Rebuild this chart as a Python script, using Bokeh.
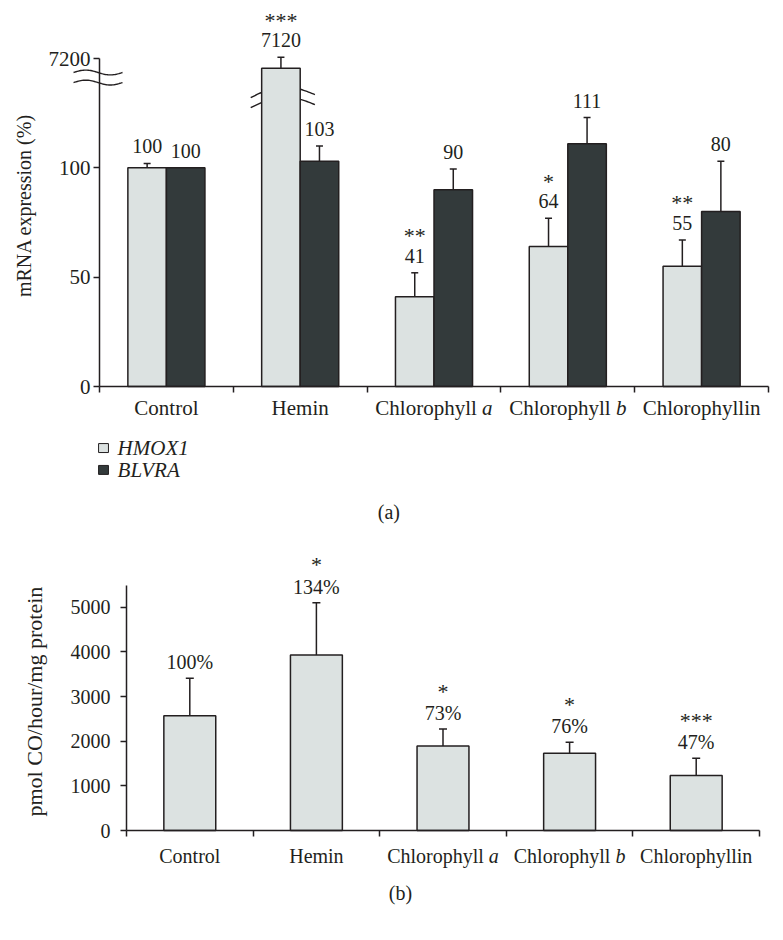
import math
from bokeh.plotting import figure
from bokeh.models import (Range1d, FixedTicker, Label, Whisker, TeeHead,
                          ColumnDataSource)
from bokeh.layouts import column
from bokeh.embed import file_html
from bokeh.resources import INLINE

# ---------------- data ----------------
cat_main = ["Control", "Hemin", "Chlorophyll", "Chlorophyll", "Chlorophyllin"]
cat_italic = ["", "", "a", "b", ""]

hmox1 = [100, 7120, 41, 64, 55]
hmox1_err = [2, 90, 11, 13, 12]
hmox1_stars = ["", "***", "**", "*", "**"]
blvra = [100, 103, 90, 111, 80]
blvra_err = [0, 7, 9.5, 12, 23]
a_tick_values = [0, 50, 100, 7200]

ho_activity = [2570, 3930, 1890, 1730, 1230]
ho_err = [840, 1170, 380, 245, 390]
ho_pct = ["100%", "134%", "73%", "76%", "47%"]
ho_stars = ["", "*", "*", "*", "***"]
b_tick_values = [0, 1000, 2000, 3000, 4000, 5000]

# ---------------- style ----------------
FONT = "Liberation Serif"
INK = "#231f20"
LIGHT = "#dce2e1"
DARK = "#333a3b"


def disp_a(v):
    """Broken axis: linear up to the break, compressed segment up to 7200."""
    if v <= 1000:
        return v
    return 150 - (7200 - v) / 17.8


def span_range(p0, p1, v0, v1, total, flip=False):
    """Range so that value v0 sits at pixel p0 and v1 at pixel p1 of a canvas of size total."""
    if not flip:
        s = (p1 - p0) / (v1 - v0)
        return Range1d(v0 - p0 / s, v0 + (total - p0) / s)
    s = (p0 - p1) / (v1 - v0)          # pixels measured from top
    return Range1d(v0 - (total - p0) / s, v1 + p1 / s)


def style_axes(p, n, ybounds, yticks, overrides, ytick_font, standoff):
    p.xaxis.fixed_location = 0
    p.yaxis.fixed_location = 0
    p.xaxis.bounds = (0, n)
    p.yaxis.bounds = ybounds
    p.xaxis.ticker = FixedTicker(ticks=[], minor_ticks=list(range(n + 1)))
    p.xaxis.major_label_text_font_size = "0px"
    p.xaxis.minor_tick_out = 6
    p.xaxis.minor_tick_in = 0
    p.xaxis.major_tick_out = 0
    p.xaxis.major_tick_in = 0
    p.yaxis.ticker = FixedTicker(ticks=yticks, minor_ticks=[])
    p.yaxis.major_label_overrides = overrides
    p.yaxis.major_tick_out = 6
    p.yaxis.major_tick_in = 0
    p.yaxis.minor_tick_out = 0
    p.yaxis.minor_tick_in = 0
    p.yaxis.major_label_standoff = standoff
    for ax in (p.xaxis, p.yaxis):
        ax.axis_line_color = INK
        ax.axis_line_width = 1.5
        ax.major_tick_line_color = INK
        ax.major_tick_line_width = 1.5
        ax.minor_tick_line_color = INK
        ax.minor_tick_line_width = 1.5
    p.yaxis.major_label_text_font = FONT
    p.yaxis.major_label_text_font_size = ytick_font
    p.yaxis.major_label_text_color = INK
    p.xgrid.visible = False
    p.ygrid.visible = False
    p.outline_line_color = None


def label(p, x, y, text, size, y_off=0, x_off=0, align="center", style="normal", angle=0):
    p.add_layout(Label(x=x, y=y, x_offset=x_off, y_offset=y_off, text=text,
                       text_align=align, text_baseline="middle", angle=angle,
                       text_font=FONT, text_font_size=size, text_font_style=style,
                       text_color=INK))


def add_cat_labels(p, centers, y, y_off, size):
    fs = float(size.replace("px", ""))
    for cx, main, it in zip(centers, cat_main, cat_italic):
        if it:
            # "Chlorophyll " + italic letter, centred as a whole
            label(p, cx, y, main, size, y_off=y_off, x_off=2.04 * fs, align="right")
            label(p, cx, y, it, size, y_off=y_off, x_off=2.29 * fs, align="left",
                  style="italic")
        else:
            label(p, cx, y, main, size, y_off=y_off)


n = len(cat_main)
centers = [i + 0.5 for i in range(n)]

# ================= panel (a) =================
WA, HA = 783, 533
pa = figure(width=WA, height=HA,
            x_range=span_range(99, 768, 0, n, WA),
            y_range=span_range(386, 58, 0, 150, HA, flip=True),
            output_backend="svg", toolbar_location=None, min_border=0)
a_tick_disp = [disp_a(v) for v in a_tick_values]
style_axes(pa, n, (0, disp_a(a_tick_values[-1])), a_tick_disp,
           {t: str(v) for t, v in zip(a_tick_disp, a_tick_values)}, "21px", 3)

bw_a = 0.288
x_h = [c - bw_a / 2 for c in centers]
x_b = [c + bw_a / 2 for c in centers]
top_h = [disp_a(v) for v in hmox1]
top_b = [disp_a(v) for v in blvra]

# break marks beside the Hemin HMOX1 bar (drawn under the bar)
hi = hmox1.index(max(hmox1))
for dy in (9.2, 13.8):
    xs = [centers[hi] - 0.37 + 0.48 * k / 40 for k in range(41)]
    ys = [top_h[hi] - dy - 4.2 + 4.2 * math.sin(math.pi * k / 40) + 1.4 * (k / 40)
          for k in range(41)]
    pa.line(xs, ys, line_color=INK, line_width=1.4)

pa.vbar(x=x_h, top=top_h, bottom=0, width=bw_a, fill_color=LIGHT,
        line_color=INK, line_width=1.5)
pa.vbar(x=x_b, top=top_b, bottom=0, width=bw_a, fill_color=DARK,
        line_color=INK, line_width=1.5)

src_h = ColumnDataSource(dict(x=x_h, lo=top_h,
                              hi=[disp_a(v + e) for v, e in zip(hmox1, hmox1_err)]))
src_b = ColumnDataSource(dict(x=x_b, lo=top_b,
                              hi=[disp_a(v + e) for v, e in zip(blvra, blvra_err)]))
for src in (src_h, src_b):
    pa.add_layout(Whisker(base="x", lower="lo", upper="hi", source=src,
                          line_color=INK, line_width=1.5, lower_head=None,
                          upper_head=TeeHead(size=7, line_color=INK, line_width=1.5)))

for x, v, e, s in zip(x_h, hmox1, hmox1_err, hmox1_stars):
    y = disp_a(v + e)
    label(pa, x, y, str(v), "20px", y_off=17)
    if s:
        label(pa, x, y, s, "22px", y_off=37)
for x, v, e in zip(x_b, blvra, blvra_err):
    label(pa, x, disp_a(v + e), str(v), "20px", y_off=17)

# break marks across the y axis
for yc in (143.6, 139.0):
    xs = [-0.194 + 0.366 * k / 40 for k in range(41)]
    ys = [yc + 1.1 * math.sin(2 * math.pi * k / 40) for k in range(41)]
    pa.line(xs, ys, line_color=INK, line_width=1.4)

add_cat_labels(pa, centers, 0, -21, "21px")

label(pa, -0.561, 82.8, "mRNA expression (%)", "20px", angle=math.pi / 2)

# legend
leg_names = ["HMOX1", "BLVRA"]
leg_cols = [LIGHT, DARK]
leg_y = [-28.15, -38.15]
pa.rect(x=[0.03] * 2, y=leg_y, width=0.074, height=4.1, fill_color=leg_cols,
        line_color=INK, line_width=1)
for yy, name in zip(leg_y, leg_names):
    label(pa, 0.135, yy, name, "21px", align="left", style="italic")

label(pa, 2.163, -57.2, "(a)", "20px")

# ================= panel (b) =================
WB, HB = 783, 407
pb = figure(width=WB, height=HB,
            x_range=span_range(126, 759, 0, n, WB),
            y_range=span_range(297, 73.7, 0, 5000, HB, flip=True),
            output_backend="svg", toolbar_location=None, min_border=0)
style_axes(pb, n, (0, 5481), b_tick_values,
           {v: str(v) for v in b_tick_values}, "20px", 10)

bw_b = 0.41
pb.vbar(x=centers, top=ho_activity, bottom=0, width=bw_b, fill_color=LIGHT,
        line_color=INK, line_width=1.5)
src_ho = ColumnDataSource(dict(x=centers, lo=ho_activity,
                               hi=[v + e for v, e in zip(ho_activity, ho_err)]))
pb.add_layout(Whisker(base="x", lower="lo", upper="hi", source=src_ho,
                      line_color=INK, line_width=1.5, lower_head=None,
                      upper_head=TeeHead(size=8, line_color=INK, line_width=1.5)))
for x, v, e, t, s in zip(centers, ho_activity, ho_err, ho_pct, ho_stars):
    y = v + e
    label(pb, x, y, t, "20px", y_off=16)
    if s:
        label(pb, x, y, s, "22px", y_off=38)

add_cat_labels(pb, centers, 0, -25, "20px")

label(pb, -0.727, 2886, "pmol CO/hour/mg protein", "22px", angle=math.pi / 2)
label(pb, 2.164, -1409, "(b)", "20px")

layout = column(pa, pb, spacing=0)
open("out.html", "w").write(file_html(layout, INLINE))
